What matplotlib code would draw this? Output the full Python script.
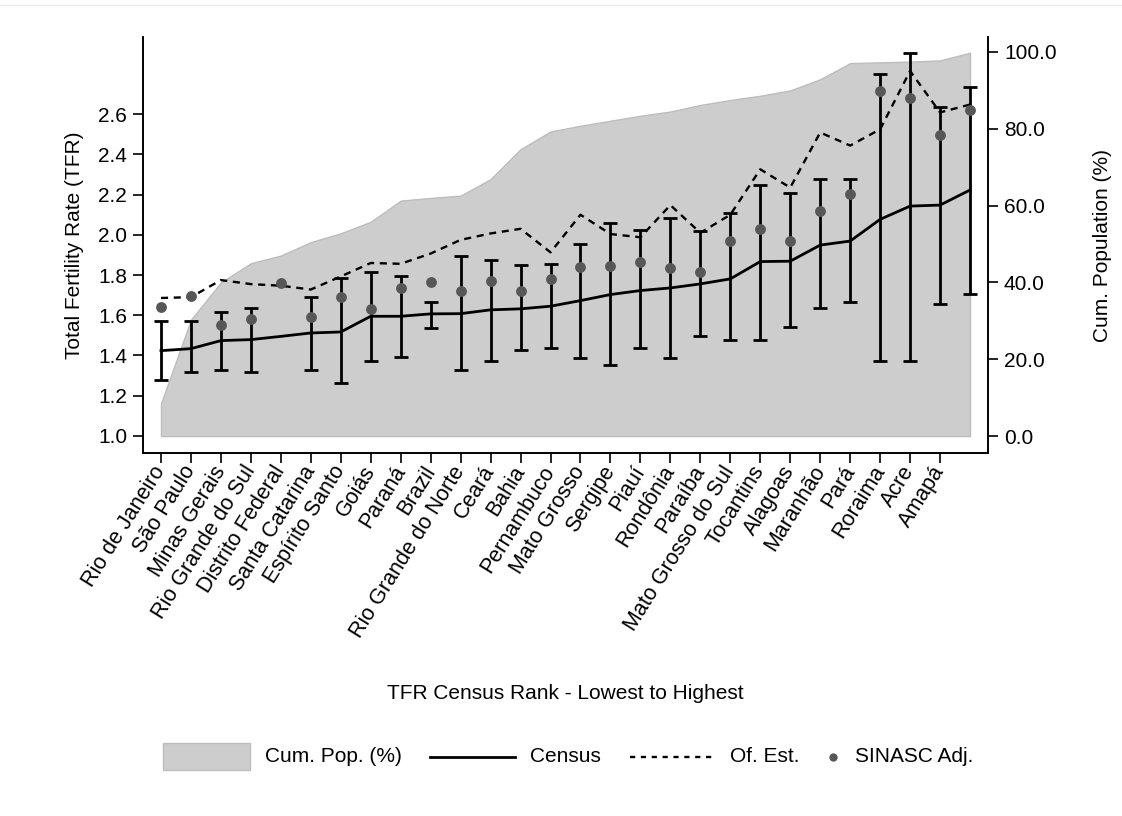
import numpy as np
import matplotlib
matplotlib.use('Agg')
import matplotlib.pyplot as plt
from matplotlib.patches import Rectangle
from matplotlib.lines import Line2D

plt.rcParams['font.family'] = ['Liberation Sans', 'DejaVu Sans']

# States ranked by census TFR (last point has no label on the axis)
states = ['Rio de Janeiro', 'São Paulo', 'Minas Gerais', 'Rio Grande do Sul',
          'Distrito Federal', 'Santa Catarina', 'Espírito Santo', 'Goiás',
          'Paraná', 'Brazil', 'Rio Grande do Norte', 'Ceará', 'Bahia',
          'Pernambuco', 'Mato Grosso', 'Sergipe', 'Piauí', 'Rondônia',
          'Paraíba', 'Mato Grosso do Sul', 'Tocantins', 'Alagoas', 'Maranhão',
          'Pará', 'Roraima', 'Acre', 'Amapá']

census = [1.424, 1.434, 1.474, 1.479, 1.495, 1.512, 1.517, 1.595, 1.595, 1.607,
          1.608, 1.627, 1.632, 1.645, 1.673, 1.703, 1.723, 1.736, 1.756, 1.781,
          1.867, 1.869, 1.949, 1.969, 2.077, 2.143, 2.148, 2.223]
ci_low = [1.276, 1.318, 1.326, 1.318, np.nan, 1.327, 1.264, 1.374, 1.394, 1.537,
          1.327, 1.374, 1.425, 1.439, 1.387, 1.354, 1.439, 1.387, 1.499, 1.479,
          1.479, 1.542, 1.635, 1.666, 1.374, 1.374, 1.656, 1.706]
ci_high = [1.573, 1.570, 1.615, 1.637, np.nan, 1.691, 1.784, 1.814, 1.794, 1.665,
           1.894, 1.874, 1.849, 1.856, 1.952, 2.057, 2.024, 2.085, 2.017, 2.107,
           2.246, 2.206, 2.280, 2.276, 2.800, 2.903, 2.634, 2.733]
of_est = [1.686, 1.690, 1.775, 1.755, 1.747, 1.728, 1.793, 1.860, 1.856, 1.907,
          1.975, 2.007, 2.030, 1.913, 2.100, 2.004, 1.988, 2.148, 2.010, 2.100,
          2.326, 2.235, 2.509, 2.444, 2.525, 2.815, 2.609, 2.648]
sinasc = [1.640, 1.694, 1.553, 1.582, 1.761, 1.593, 1.691, 1.632, 1.736, 1.766,
          1.721, 1.768, 1.721, 1.781, 1.839, 1.847, 1.866, 1.833, 1.814, 1.969,
          2.027, 1.969, 2.118, 2.205, 2.713, 2.680, 2.497, 2.620]
cum_pop = [8.5, 30.3, 40.0, 45.0, 47.0, 50.5, 52.8, 55.8, 61.3, 62.0,
           62.6, 66.9, 74.7, 79.3, 80.8, 82.1, 83.4, 84.5, 86.2, 87.5,
           88.6, 90.0, 92.9, 97.1, 97.3, 97.5, 97.8, 99.8]

x = np.arange(len(census))
census = np.array(census)
err = [census - np.array(ci_low), np.array(ci_high) - census]

AREA = '#cdcdcd'
DOT = '#575757'
FS = 15

fig = plt.figure(figsize=(11.22, 8.16), dpi=100)
ax = fig.add_axes([143/1122, 1-453/816, 845/1122, 416/816])
ax2 = ax.twinx()

# cumulative population on the right axis, behind everything
ax2.fill_between(x, 0, cum_pop, color=AREA, edgecolor='#bdbdbd', lw=1)
ax2.set_ylim(-4.4, 103.9)
ax2.set_yticks(np.arange(0, 101, 20))
ax2.set_yticklabels(['%.1f' % v for v in np.arange(0, 101, 20)], fontsize=FS)
ax2.set_ylabel('Cum. Population (%)', fontsize=FS, labelpad=26)

ax.set_zorder(ax2.get_zorder() + 1)
ax.patch.set_visible(False)

ax.errorbar(x, census, yerr=err, color='black', lw=2, elinewidth=2,
            capsize=5, capthick=2)
ax.plot(x, of_est, color='black', lw=1.7, ls=(0, (3.0, 2.4)))
ax.plot(x, sinasc, ls='None', marker='o', ms=7.8, color=DOT, mec='None')

ax.set_xlim(-0.6, 27.6)
ax.set_ylim(0.915, 2.984)
ax.set_yticks(np.arange(1.0, 2.61, 0.2))
ax.set_yticklabels(['%.1f' % v for v in np.arange(1.0, 2.61, 0.2)], fontsize=FS)
ax.set_ylabel('Total Fertility Rate (TFR)', fontsize=FS, labelpad=10)

ax.set_xticks(np.arange(len(states)))
ax.set_xticklabels(states, rotation=58, ha='right', va='center',
                   rotation_mode='anchor', fontsize=FS + 0.5)
ax.set_xlabel('TFR Census Rank - Lowest to Highest', fontsize=FS)
ax.xaxis.set_label_coords(0.5, -0.555)

for a in (ax, ax2):
    a.spines['top'].set_visible(False)
    for s in ('left', 'right', 'bottom'):
        a.spines[s].set_linewidth(1.2)
    a.tick_params(length=7.5, width=1.2, pad=4)
ax.tick_params(axis='x', pad=3)

# legend row under the chart
def fx(px):
    return px / 1122

def fy(py):
    return 1 - py / 816

ly = fy(757)
fig.add_artist(Rectangle((fx(163), fy(770)), fx(87), 27/816, transform=fig.transFigure,
                         facecolor=AREA, edgecolor='#bdbdbd', lw=1))
fig.text(fx(265), ly, 'Cum. Pop. (%)', fontsize=FS, va='center')
fig.add_artist(Line2D([fx(430), fx(515)], [ly, ly], color='black', lw=2))
fig.text(fx(530), ly, 'Census', fontsize=FS, va='center')
fig.add_artist(Line2D([fx(630), fx(715)], [ly, ly], color='black', lw=1.7,
                      ls=(0, (2.2, 2.4))))
fig.text(fx(730), ly, 'Of. Est.', fontsize=FS, va='center')
fig.add_artist(Line2D([fx(833)], [ly], ls='None', marker='o', ms=6, color=DOT, mec='None'))
fig.text(fx(855), ly, 'SINASC Adj.', fontsize=FS, va='center')

fig.add_artist(Line2D([0, 1], [fy(5), fy(5)], color='#ececec', lw=1))

plt.savefig('out.png', dpi=100)
